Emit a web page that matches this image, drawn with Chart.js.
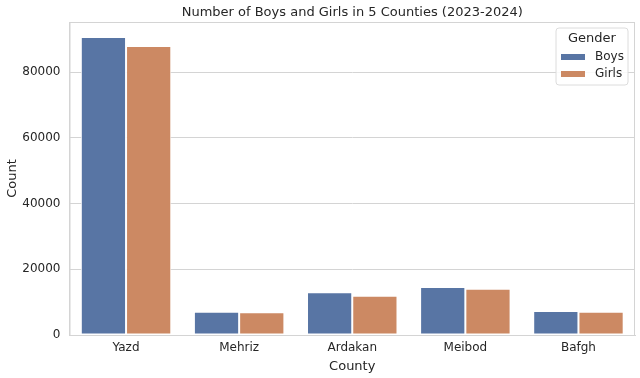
<!DOCTYPE html>
<html>
<head>
<meta charset="utf-8">
<script src="https://cdn.jsdelivr.net/npm/chart.js@4"></script>
<style>
  html, body { margin: 0; padding: 0; background: #fff; }
  #c { display: block; }
</style>
</head>
<body>
<canvas id="c" width="640" height="378"></canvas>
<script>
// values
const counties = ['Yazd', 'Mehriz', 'Ardakan', 'Meibod', 'Bafgh'];
const boys = [90750, 7090, 12990, 14600, 7300];
const girls = [88000, 6900, 11950, 14080, 7090];
const yTicks = [0, 20000, 40000, 60000, 80000];
const yMax = 95300;
const chartTitle = 'Number of Boys and Girls in 5 Counties (2023-2024)';

const FONT = "'DejaVu Sans', sans-serif";
const TXT = '#262626';
const GRID = '#d4d4d4';

// title centred over the plot area, like matplotlib
const axTitle = {
  id: 'axTitle',
  afterDraw(chart) {
    const a = chart.chartArea, ctx = chart.ctx;
    ctx.save();
    ctx.fillStyle = TXT;
    ctx.font = '13px ' + FONT;
    ctx.textAlign = 'center';
    ctx.textBaseline = 'middle';
    ctx.fillText(chartTitle, (a.left + a.right) / 2, 12.5);
    ctx.restore();
  }
};

// seaborn-like legend drawn inside the plot (top right)
const boxLegend = {
  id: 'boxLegend',
  afterDatasetsDraw(chart) {
    const ctx = chart.ctx;
    const x = 556, y = 28, w = 72, h = 57;
    ctx.save();
    ctx.beginPath();
    ctx.roundRect(x, y, w, h, 3);
    ctx.fillStyle = 'rgba(255,255,255,0.85)';
    ctx.fill();
    ctx.strokeStyle = '#dcdcdc';
    ctx.lineWidth = 1;
    ctx.stroke();
    ctx.fillStyle = TXT;
    ctx.textAlign = 'center';
    ctx.textBaseline = 'middle';
    ctx.font = '13px ' + FONT;
    ctx.fillText('Gender', x + w / 2, y + 11);
    ctx.font = '12px ' + FONT;
    ctx.textAlign = 'left';
    chart.data.datasets.forEach((ds, i) => {
      const cy = y + 29 + i * 17;
      ctx.fillStyle = ds.backgroundColor;
      ctx.fillRect(x + 5, cy - 3, 24, 6);
      ctx.fillStyle = TXT;
      ctx.fillText(ds.label, x + 39, cy);
    });
    ctx.restore();
  }
};

// full frame around the plot (top and right spines too)
const frame = {
  id: 'frame',
  beforeDatasetsDraw(chart) {
    const a = chart.chartArea, ctx = chart.ctx;
    ctx.save();
    ctx.strokeStyle = GRID;
    ctx.lineWidth = 1;
    ctx.strokeRect(a.left + 0.5, a.top + 0.5, a.right - a.left - 1, a.bottom - a.top);
    ctx.restore();
  }
};

new Chart(document.getElementById('c'), {
  type: 'bar',
  data: {
    labels: counties,
    datasets: [
      { label: 'Boys', data: boys, backgroundColor: '#5875a4', borderColor: '#ffffff', borderWidth: 1, borderSkipped: false },
      { label: 'Girls', data: girls, backgroundColor: '#cc8963', borderColor: '#ffffff', borderWidth: 1, borderSkipped: false }
    ]
  },
  options: {
    responsive: false,
    animation: false,
    devicePixelRatio: 1,
    layout: { padding: { left: 0, right: 5, top: 22, bottom: 0 } },
    datasets: { bar: { categoryPercentage: 0.8, barPercentage: 1.0 } },
    plugins: {
      legend: { display: false },
      tooltip: { enabled: false },
      title: { display: false }
    },
    scales: {
      x: {
        grid: { display: false, drawTicks: false, tickLength: 0 },
        border: { display: true, color: GRID },
        ticks: { color: TXT, font: { family: FONT, size: 12 }, padding: 6, maxRotation: 0 },
        title: { display: true, text: 'County', color: TXT, font: { family: FONT, size: 13 }, padding: { top: 0, bottom: 4 } },
        afterFit(s) { s.height = 43; }
      },
      y: {
        min: 0,
        max: yMax,
        grid: { color: GRID, drawTicks: false, tickLength: 0 },
        border: { display: true, color: GRID },
        ticks: { color: TXT, font: { family: FONT, size: 12 }, padding: 9, callback: v => String(v) },
        afterBuildTicks(s) { s.ticks = yTicks.map(v => ({ value: v })); },
        title: { display: true, text: 'Count', color: TXT, font: { family: FONT, size: 13 }, padding: { top: 5, bottom: 0 } },
        afterFit(s) { s.width = 69.5; }
      }
    }
  },
  plugins: [frame, boxLegend, axTitle]
});
</script>
</body>
</html>
